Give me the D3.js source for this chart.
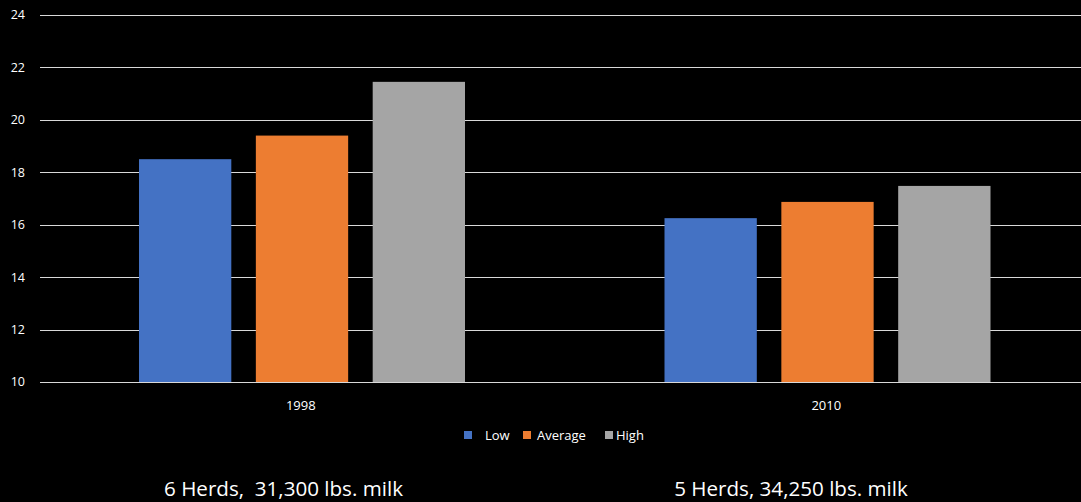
<!DOCTYPE html>
<html>
<head>
<meta charset="utf-8">
<script src="https://cdn.jsdelivr.net/npm/d3@7"></script>
<style>
  html, body { margin: 0; padding: 0; background: #000; }
  svg { display: block; }
  text { font-family: "Open Sans", "Noto Sans", sans-serif; fill: #fff; }
</style>
</head>
<body>
<svg id="chart" width="1081" height="502"></svg>
<script>
// Years compared and the three herd groups
const years = ["1998", "2010"];
const seriesNames = ["Low", "Average", "High"];
const seriesColors = ["#4472c4", "#ed7d31", "#a5a5a5"];
// Values per series, one entry per year
const lowValues = [18.5, 16.25];
const averageValues = [19.4, 16.87];
const highValues = [21.45, 17.48];
const yTicks = [10, 12, 14, 16, 18, 20, 22, 24];
const captions = ["6 Herds,  31,300 lbs. milk", "5 Herds, 34,250 lbs. milk"];

const seriesValues = [lowValues, averageValues, highValues];
const rows = years.map((yr, i) => ({
  year: yr,
  values: seriesNames.map((s, j) => ({ name: s, value: seriesValues[j][i], color: seriesColors[j] }))
}));

const svg = d3.select("#chart");
const plotLeft = 38, plotRight = 1089, plotTop = 15, plotBottom = 382;

const x0 = d3.scaleBand().domain(years).range([plotLeft, plotRight]).paddingInner(0).paddingOuter(0);
const x1 = d3.scaleBand().domain(seriesNames).range([101, 101 + 326]).paddingInner(0.21);
const y = d3.scaleLinear().domain([10, 24]).range([plotBottom, plotTop]);

// Horizontal gridlines
svg.append("g")
  .selectAll("line")
  .data(yTicks)
  .join("line")
  .attr("x1", plotLeft + 2)
  .attr("x2", 1081)
  .attr("y1", d => Math.round(y(d)) + 0.5)
  .attr("y2", d => Math.round(y(d)) + 0.5)
  .attr("stroke", "#d9d9d9")
  .attr("stroke-width", 1);

// Y tick labels
svg.append("g")
  .selectAll("text")
  .data(yTicks)
  .join("text")
  .attr("x", 25)
  .attr("y", d => y(d))
  .attr("dy", "0.35em")
  .attr("text-anchor", "end")
  .attr("font-size", 12.5)
  .text(d => d);

// Bars
const groups = svg.append("g")
  .selectAll("g")
  .data(rows)
  .join("g")
  .attr("transform", d => `translate(${x0(d.year)},0)`);

groups.selectAll("rect")
  .data(d => d.values)
  .join("rect")
  .attr("x", d => x1(d.name))
  .attr("width", x1.bandwidth())
  .attr("y", d => y(d.value))
  .attr("height", d => y(10) - y(d.value))
  .attr("fill", d => d.color);

// Category labels
svg.append("g")
  .selectAll("text")
  .data(years)
  .join("text")
  .attr("x", d => x0(d) + x0.bandwidth() / 2)
  .attr("y", 410)
  .attr("text-anchor", "middle")
  .attr("font-size", 13)
  .text(d => d);

// Legend
const legendItems = [
  { sx: 464, tx: 485 },
  { sx: 523, tx: 537 },
  { sx: 605, tx: 616 }
];
const legend = svg.append("g");
legendItems.forEach((it, i) => {
  legend.append("rect")
    .attr("x", it.sx).attr("y", 431)
    .attr("width", 8).attr("height", 8)
    .attr("fill", seriesColors[i]);
  legend.append("text")
    .attr("x", it.tx).attr("y", 440)
    .attr("font-size", 13)
    .text(seriesNames[i]);
});

// Captions under each year group
svg.append("g")
  .selectAll("text")
  .data(captions)
  .join("text")
  .attr("x", (d, i) => [283.5, 791][i])
  .attr("y", 496)
  .attr("text-anchor", "middle")
  .attr("font-size", 20.6)
  .style("white-space", "pre")
  .text(d => d);
</script>
</body>
</html>
